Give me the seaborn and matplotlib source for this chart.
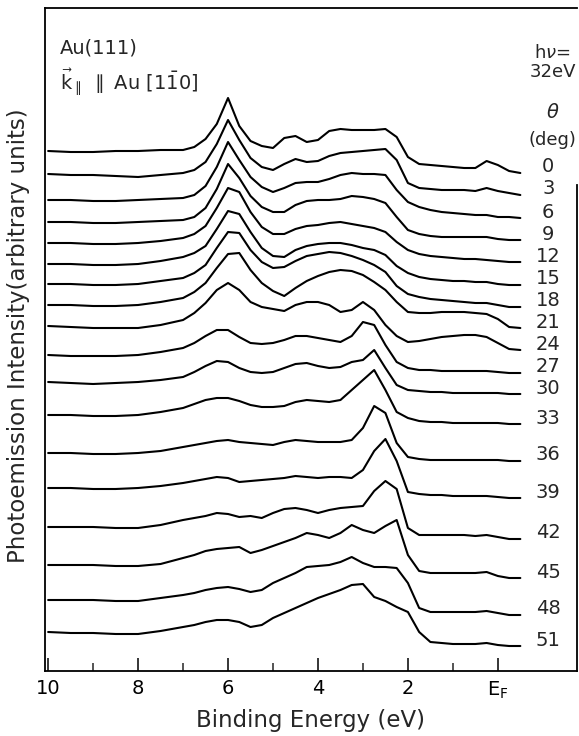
import matplotlib
matplotlib.use("Agg")
import matplotlib.pyplot as plt
import numpy as np
import pandas as pd
import seaborn as sns

# ---------------- data ----------------
energy = [10, 9.5, 9, 8.5, 8, 7.5, 7, 6.75, 6.5, 6.25, 6, 5.75, 5.5, 5.25, 5,
          4.75, 4.5, 4.25, 4, 3.75, 3.5, 3.25, 3, 2.75, 2.5, 2.25, 2, 1.75,
          1.5, 1.25, 1, 0.75, 0.5, 0.25, 0, -0.25, -0.5]

angles = [0, 3, 6, 9, 12, 15, 18, 21, 24, 27, 30, 33, 36, 39, 42, 45, 48, 51]

# vertical stacking offset of each spectrum (arbitrary units)
baselines = [498, 476, 453, 431, 409, 386, 364, 343, 321, 298, 277, 247,
             210, 173, 132, 93, 56, 25]

s00 = [22, 21, 21, 22, 22, 23, 23, 26, 34, 49, 75, 47, 32, 27, 25, 35, 37, 31, 33, 42, 44, 43, 43, 43, 44, 36, 16, 9, 8, 7, 6, 5, 5, 12, 8, 2, 0]
s03 = [21, 20, 20, 19, 18, 20, 22, 25, 33, 51, 75, 55, 37, 28, 25, 31, 36, 33, 34, 39, 42, 43, 44, 45, 46, 35, 12, 7, 6, 5, 5, 5, 4, 7, 4, 2, 0]
s06 = [18, 18, 17, 17, 18, 19, 20, 23, 32, 51, 76, 58, 41, 31, 26, 30, 35, 36, 36, 39, 43, 45, 44, 44, 43, 28, 16, 11, 8, 6, 5, 4, 3, 3, 1, 1, 0]
s09 = [18, 18, 17, 17, 18, 19, 20, 23, 32, 51, 76, 62, 44, 33, 28, 28, 35, 39, 40, 40, 41, 44, 43, 41, 37, 23, 10, 6, 4, 3, 3, 3, 3, 3, 1, 0, 0]
s12 = [19, 19, 18, 18, 19, 21, 24, 28, 36, 54, 74, 70, 50, 35, 28, 28, 33, 36, 37, 39, 40, 38, 36, 34, 30, 20, 12, 8, 6, 5, 4, 3, 3, 2, 1, 0, 0]
s15 = [21, 21, 20, 20, 21, 24, 28, 32, 39, 56, 74, 71, 53, 37, 29, 28, 35, 39, 41, 42, 42, 40, 37, 35, 30, 19, 12, 8, 6, 5, 4, 4, 3, 3, 1, 0, 0]
s18 = [23, 23, 22, 22, 23, 26, 29, 34, 42, 59, 75, 74, 57, 45, 39, 40, 46, 51, 53, 55, 54, 51, 47, 42, 35, 21, 13, 10, 8, 7, 6, 5, 4, 4, 2, 0, 0]
s21 = [23, 23, 22, 22, 23, 26, 30, 36, 45, 60, 74, 75, 58, 45, 37, 32, 40, 47, 52, 56, 58, 57, 53, 46, 38, 26, 16, 15, 15, 16, 16, 16, 15, 14, 9, 1, 0]
s24 = [24, 23, 22, 22, 22, 25, 30, 37, 47, 60, 67, 60, 48, 43, 41, 39, 45, 48, 48, 45, 38, 40, 48, 40, 25, 14, 8, 9, 11, 13, 14, 15, 15, 13, 7, 1, 0]
s27 = [18, 17, 17, 17, 18, 21, 25, 30, 37, 43, 43, 36, 30, 29, 30, 33, 37, 37, 35, 33, 31, 37, 51, 48, 28, 11, 5, 3, 3, 2, 2, 2, 2, 2, 1, 0, 0]
s30 = [12, 11, 10, 11, 12, 14, 17, 22, 28, 33, 32, 26, 22, 21, 22, 26, 30, 31, 28, 26, 27, 32, 34, 44, 26, 9, 4, 3, 2, 2, 1, 1, 1, 1, 1, 0, 0]
s33 = [9, 9, 8, 8, 9, 12, 16, 20, 24, 26, 26, 23, 19, 17, 17, 18, 22, 24, 23, 22, 24, 34, 44, 54, 34, 12, 6, 3, 2, 2, 1, 1, 1, 1, 1, 0, 0]
s36 = [8, 8, 7, 7, 8, 10, 14, 16, 18, 20, 21, 19, 18, 17, 16, 19, 21, 20, 19, 19, 19, 21, 33, 55, 48, 18, 4, 2, 1, 1, 1, 1, 1, 1, 1, 0, 0]
s39 = [10, 10, 9, 9, 10, 12, 15, 17, 19, 21, 20, 16, 17, 18, 19, 20, 22, 21, 20, 21, 21, 20, 28, 47, 59, 37, 6, 4, 3, 3, 2, 2, 2, 2, 1, 0, 0]
s42 = [12, 12, 12, 11, 11, 14, 19, 21, 23, 26, 25, 22, 23, 21, 26, 30, 31, 29, 26, 29, 31, 32, 33, 48, 58, 50, 11, 4, 4, 4, 4, 4, 3, 4, 2, 0, 0]
s45 = [13, 13, 13, 12, 12, 14, 20, 23, 27, 29, 30, 31, 25, 28, 32, 36, 40, 45, 43, 40, 45, 53, 48, 45, 52, 58, 23, 7, 5, 5, 5, 5, 5, 6, 2, 0, 0]
s48 = [15, 15, 15, 14, 14, 17, 20, 22, 25, 27, 28, 26, 23, 25, 32, 37, 42, 48, 49, 50, 53, 58, 52, 48, 48, 47, 32, 7, 3, 3, 3, 3, 3, 4, 2, 0, 0]
s51 = [14, 13, 13, 12, 12, 15, 19, 21, 24, 26, 26, 24, 19, 21, 28, 33, 38, 43, 48, 52, 56, 61, 62, 49, 45, 39, 34, 14, 4, 3, 2, 2, 2, 3, 1, 0, 0]

spectra = [s00, s03, s06, s09, s12, s15, s18, s21, s24, s27, s30, s33,
           s36, s39, s42, s45, s48, s51]

x_major = [10, 8, 6, 4, 2, 0]
x_major_labels = ["10", "8", "6", "4", "2", r"E$_\mathregular{F}$"]
x_minor = [9, 7, 5, 3, 1]

# ---------------- build table ----------------
rows = []
for th, base, s in zip(angles, baselines, spectra):
    for e, h in zip(energy, s):
        rows.append((th, e, base + h))
df = pd.DataFrame(rows, columns=["theta", "E", "I"])

# ---------------- figure ----------------
sns.set_style("ticks")
plt.rcParams["font.family"] = ["DejaVu Sans"]
plt.rcParams["mathtext.fontset"] = "dejavusans"

W, H = 579, 736
fig = plt.figure(figsize=(W / 100, H / 100), dpi=100)
ax = fig.add_axes([45 / W, 65 / H, 532 / W, 663 / H])

sns.lineplot(data=df, x="E", y="I", units="theta", estimator=None,
             sort=False, color="black", lw=1.5, ax=ax, legend=False,
             solid_joinstyle="round", solid_capstyle="round")

ax.set_xlim(10.07, -1.76)
ax.set_ylim(0, 663)

ax.set_xticks(x_major)
ax.set_xticklabels(x_major_labels)
ax.set_xticks(x_minor, minor=True)
ax.set_yticks([])
ax.tick_params(axis="x", which="major", direction="in", length=9.5,
               width=1.1, pad=6, labelsize=14, colors="black")
ax.tick_params(axis="x", which="minor", direction="in", length=5.5,
               width=1.1)

for sp in ax.spines.values():
    sp.set_color("black")
    sp.set_linewidth(1.3)
ax.spines["right"].set_bounds(0, 486)

ax.set_xlabel("Binding Energy (eV)", fontsize=16.5)
ax.xaxis.set_label_coords(0.5, -0.058)
ax.set_ylabel("Photoemission Intensity(arbitrary units)", fontsize=16.5)
ax.yaxis.set_label_coords(-0.028, 0.505)

# angle labels at the right end of each spectrum
for th, base in zip(angles, baselines):
    ax.text(-1.12, base + 6, str(th), ha="center", va="center",
            fontsize=14)

# header texts
ax.text(-1.22, 618, r"h$\nu$=", ha="center", va="center", fontsize=13)
ax.text(-1.22, 599, "32eV", ha="center", va="center", fontsize=13)
ax.text(-1.22, 558, r"$\theta$", ha="center", va="center", fontsize=14)
ax.text(-1.22, 531, "(deg)", ha="center", va="center", fontsize=13)

ax.text(9.73, 623, "Au(111)", ha="left", va="center", fontsize=14)
ax.text(9.73, 589, r"$\vec{\mathregular{k}}_{\parallel}$ $\parallel$ Au [1$\bar{\mathregular{1}}$0]",
        ha="left", va="center", fontsize=14)

fig.savefig("out.png", dpi=100, facecolor="white")
